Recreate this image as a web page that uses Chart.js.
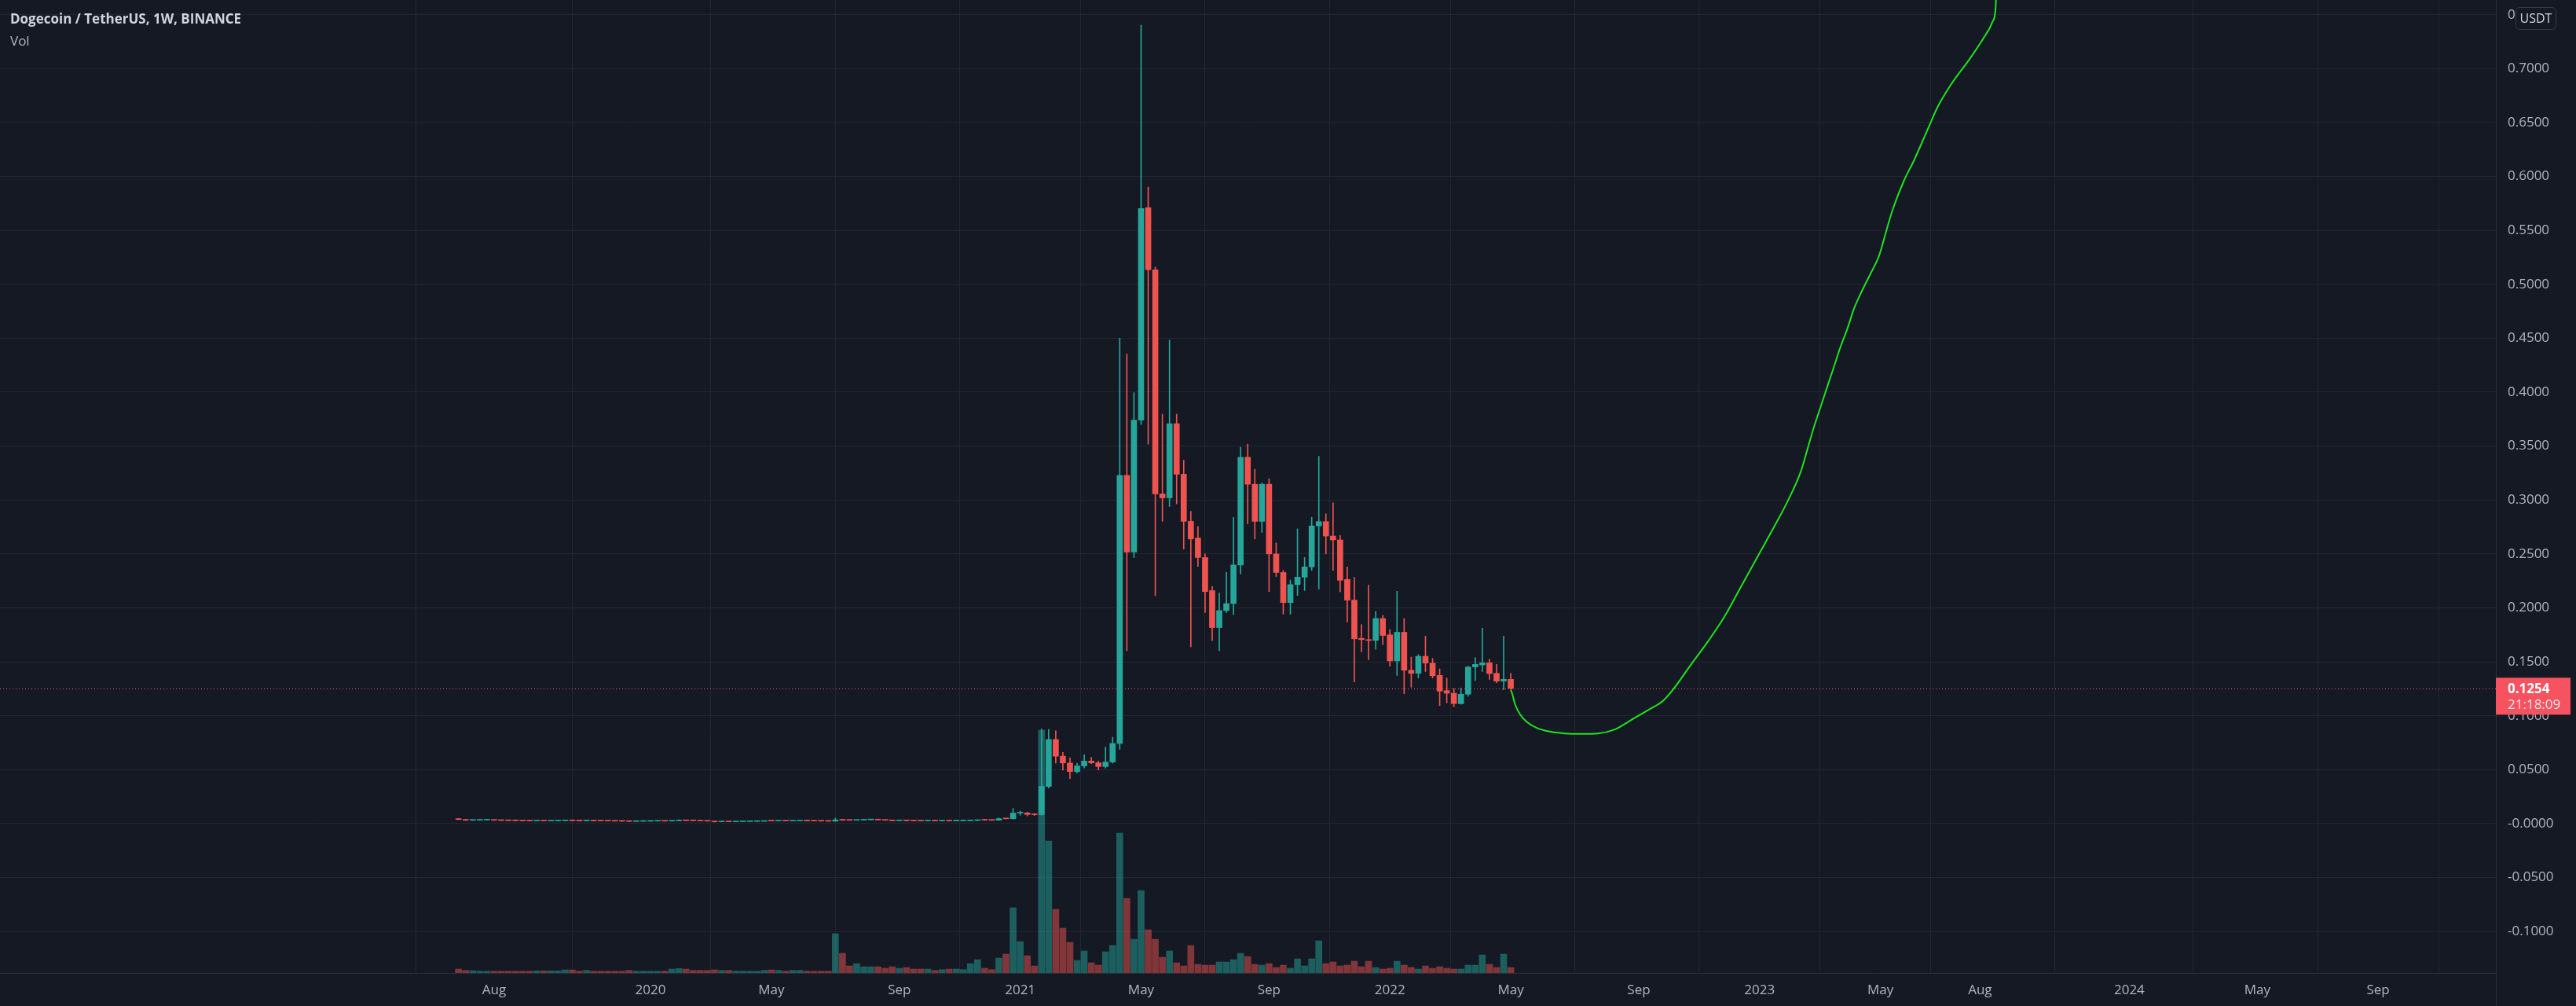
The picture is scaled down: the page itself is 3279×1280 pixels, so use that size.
<!DOCTYPE html>
<html lang="en">
<head>
  <meta charset="UTF-8">
  <title>Dogecoin / TetherUS, 1W, BINANCE</title>
  <script src="https://cdn.jsdelivr.net/npm/chart.js"></script>
  <style>
    body {
      margin: 0;
      padding: 0;
      background-color: #151924;
      overflow: hidden;
    }

    .wrap {
      position: relative;
      width: 3279px;
      height: 1280px;
    }

    .legend {
      position: absolute;
      left: 13px;
      font-family: 'Open Sans', sans-serif;
      font-size: 17px;
      line-height: 24px;
      pointer-events: none;
    }

    .legend.title {
      top: 12px;
      font-weight: bold;
      color: #d1d4dc;
    }

    .legend.vol {
      top: 40px;
      color: #b2b5be;
    }
  </style>
</head>
<body>
  <div class="wrap">
    <canvas id="dogeChart"></canvas>
    <div class="legend title">Dogecoin / TetherUS, 1W, BINANCE</div>
    <div class="legend vol">Vol</div>
  </div>

  <script>
    // weekly candles, index 0 = week of 2019-07-01, index 148 = week of 2022-05-02
    const opens = [
      0.0046, 0.0038, 0.0031, 0.0032, 0.0033, 0.0034, 0.0031, 0.0029, 0.0028, 0.0027,
      0.0026, 0.0025, 0.0026, 0.0025, 0.0026, 0.0027, 0.0028, 0.0027, 0.0026, 0.0027,
      0.0026, 0.0025, 0.0024, 0.0023, 0.0022, 0.0020, 0.0021, 0.0022, 0.0023, 0.0024,
      0.0023, 0.0026, 0.0029, 0.0028, 0.0027, 0.0025, 0.0023, 0.0017, 0.0018, 0.0017,
      0.0018, 0.0019, 0.0020, 0.0021, 0.0025, 0.0024, 0.0025, 0.0024, 0.0025, 0.0026,
      0.0025, 0.0024, 0.0023, 0.0022, 0.0035, 0.0032, 0.0031, 0.0033, 0.0035, 0.0036,
      0.0034, 0.0031, 0.0027, 0.0028, 0.0027, 0.0026, 0.0025, 0.0026, 0.0025, 0.0026,
      0.0025, 0.0026, 0.0027, 0.0029, 0.0034, 0.0032, 0.0031, 0.0046, 0.0045, 0.0098,
      0.0099, 0.0085, 0.0083, 0.0345, 0.0780, 0.0625, 0.0562, 0.0482, 0.0535, 0.0580,
      0.0564, 0.0529, 0.0571, 0.0743, 0.3229, 0.2518, 0.3741, 0.5711, 0.5135, 0.3057,
      0.3020, 0.3708, 0.3239, 0.2802, 0.2648, 0.2467, 0.2160, 0.1817, 0.1975, 0.2040,
      0.2398, 0.3397, 0.3146, 0.2802, 0.3146, 0.2500, 0.2328, 0.2049, 0.2216, 0.2285,
      0.2380, 0.2760, 0.2800, 0.2666, 0.2630, 0.2264, 0.2072, 0.1718, 0.1706, 0.1698,
      0.1902, 0.1750, 0.1508, 0.1774, 0.1422, 0.1393, 0.1551, 0.1488, 0.1374, 0.1233,
      0.1209, 0.1112, 0.1200, 0.1452, 0.1471, 0.1491, 0.1393, 0.1321, 0.1338
    ];
    const highs = [
      0.0049, 0.0040, 0.0034, 0.0035, 0.0036, 0.0035, 0.0032, 0.0030, 0.0029, 0.0028,
      0.0027, 0.0028, 0.0027, 0.0027, 0.0029, 0.0031, 0.0029, 0.0028, 0.0029, 0.0028,
      0.0027, 0.0026, 0.0025, 0.0024, 0.0023, 0.0022, 0.0023, 0.0024, 0.0026, 0.0025,
      0.0027, 0.0036, 0.0031, 0.0029, 0.0028, 0.0026, 0.0024, 0.0020, 0.0019, 0.0019,
      0.0020, 0.0021, 0.0022, 0.0027, 0.0027, 0.0027, 0.0026, 0.0026, 0.0027, 0.0027,
      0.0026, 0.0025, 0.0024, 0.0052, 0.0036, 0.0034, 0.0035, 0.0037, 0.0038, 0.0037,
      0.0035, 0.0032, 0.0030, 0.0029, 0.0028, 0.0027, 0.0027, 0.0027, 0.0027, 0.0027,
      0.0027, 0.0028, 0.0031, 0.0036, 0.0036, 0.0033, 0.0052, 0.0050, 0.0140, 0.0116,
      0.0105, 0.0094, 0.0878, 0.0873, 0.0860, 0.0660, 0.0610, 0.0560, 0.0638, 0.0615,
      0.0580, 0.0710, 0.0801, 0.4500, 0.4354, 0.3996, 0.7402, 0.5901, 0.5160, 0.3796,
      0.4484, 0.3796, 0.3369, 0.2895, 0.2755, 0.2500, 0.2198, 0.2137, 0.2328, 0.2839,
      0.3490, 0.3518, 0.3285, 0.3160, 0.3197, 0.2602, 0.2347, 0.2258, 0.2732, 0.2467,
      0.2839, 0.3406, 0.2872, 0.2974, 0.2671, 0.2380, 0.2283, 0.1846, 0.2210, 0.1967,
      0.1931, 0.1800, 0.2154, 0.1900, 0.1544, 0.1568, 0.1738, 0.1532, 0.1435, 0.1350,
      0.1253, 0.1255, 0.1459, 0.1539, 0.1811, 0.1524, 0.1476, 0.1738, 0.1393
    ];
    const lows = [
      0.0036, 0.0029, 0.0030, 0.0031, 0.0032, 0.0030, 0.0028, 0.0027, 0.0026, 0.0025,
      0.0024, 0.0024, 0.0024, 0.0024, 0.0025, 0.0026, 0.0026, 0.0025, 0.0025, 0.0025,
      0.0024, 0.0023, 0.0022, 0.0021, 0.0019, 0.0019, 0.0020, 0.0021, 0.0022, 0.0022,
      0.0022, 0.0025, 0.0027, 0.0026, 0.0024, 0.0022, 0.0014, 0.0016, 0.0016, 0.0016,
      0.0017, 0.0018, 0.0019, 0.0020, 0.0023, 0.0023, 0.0023, 0.0023, 0.0024, 0.0024,
      0.0023, 0.0022, 0.0021, 0.0021, 0.0029, 0.0029, 0.0030, 0.0032, 0.0034, 0.0033,
      0.0030, 0.0026, 0.0026, 0.0026, 0.0025, 0.0024, 0.0024, 0.0024, 0.0024, 0.0024,
      0.0024, 0.0025, 0.0026, 0.0028, 0.0030, 0.0030, 0.0030, 0.0041, 0.0042, 0.0078,
      0.0071, 0.0075, 0.0078, 0.0330, 0.0562, 0.0495, 0.0418, 0.0470, 0.0515, 0.0555,
      0.0497, 0.0515, 0.0560, 0.0688, 0.1603, 0.2467, 0.3700, 0.3518, 0.2114, 0.2802,
      0.2940, 0.2965, 0.2546, 0.1640, 0.2384, 0.1956, 0.1696, 0.1603, 0.1956, 0.1938,
      0.2314, 0.2779, 0.2639, 0.2700, 0.2151, 0.2291, 0.1942, 0.1942, 0.2114, 0.2161,
      0.2347, 0.2175, 0.2500, 0.2347, 0.2150, 0.1870, 0.1313, 0.1592, 0.1519, 0.1616,
      0.1660, 0.1460, 0.1373, 0.1204, 0.1265, 0.1350, 0.1410, 0.1350, 0.1095, 0.1120,
      0.1083, 0.1107, 0.1180, 0.1326, 0.1410, 0.1338, 0.1306, 0.1240, 0.1245
    ];
    const closes = [
      0.0038, 0.0031, 0.0032, 0.0033, 0.0034, 0.0031, 0.0029, 0.0028, 0.0027, 0.0026,
      0.0025, 0.0026, 0.0025, 0.0026, 0.0027, 0.0028, 0.0027, 0.0026, 0.0027, 0.0026,
      0.0025, 0.0024, 0.0023, 0.0022, 0.0020, 0.0021, 0.0022, 0.0023, 0.0024, 0.0023,
      0.0026, 0.0029, 0.0028, 0.0027, 0.0025, 0.0023, 0.0017, 0.0018, 0.0017, 0.0018,
      0.0019, 0.0020, 0.0021, 0.0025, 0.0024, 0.0025, 0.0024, 0.0025, 0.0026, 0.0025,
      0.0024, 0.0023, 0.0022, 0.0035, 0.0032, 0.0031, 0.0033, 0.0035, 0.0036, 0.0034,
      0.0031, 0.0027, 0.0028, 0.0027, 0.0026, 0.0025, 0.0026, 0.0025, 0.0026, 0.0025,
      0.0026, 0.0027, 0.0029, 0.0034, 0.0032, 0.0031, 0.0046, 0.0045, 0.0098, 0.0099,
      0.0085, 0.0083, 0.0345, 0.0780, 0.0625, 0.0562, 0.0482, 0.0535, 0.0580, 0.0564,
      0.0529, 0.0571, 0.0743, 0.3229, 0.2518, 0.3741, 0.5702, 0.5135, 0.3057, 0.3020,
      0.3708, 0.3239, 0.2802, 0.2639, 0.2467, 0.2151, 0.1817, 0.1975, 0.2040, 0.2398,
      0.3397, 0.3146, 0.2802, 0.3146, 0.2500, 0.2328, 0.2049, 0.2216, 0.2285, 0.2380,
      0.2760, 0.2800, 0.2666, 0.2630, 0.2256, 0.2072, 0.1713, 0.1706, 0.1698, 0.1902,
      0.1744, 0.1508, 0.1774, 0.1422, 0.1393, 0.1551, 0.1488, 0.1371, 0.1228, 0.1209,
      0.1112, 0.1200, 0.1452, 0.1476, 0.1491, 0.1391, 0.1321, 0.1338, 0.1254
    ];
    // volume, relative units
    const volumes = [
      5, 3.3, 3, 2.3, 2.3, 2.3, 2.3, 2.3, 2.3, 2.3,
      2.3, 2.7, 2.7, 2.7, 2.7, 4, 4, 2.3, 3.3, 2.3,
      2.3, 2.3, 2.3, 2.3, 3.3, 2.3, 2.3, 2.3, 2.3, 2.3,
      5, 5.7, 5, 3.3, 3.3, 3.3, 4, 3.3, 3.3, 2.3,
      2.3, 2.3, 2.3, 3.3, 4, 3.3, 2.3, 3.3, 3.3, 2.3,
      2.3, 2.3, 2.3, 50, 25, 9, 12, 8, 8, 8,
      6, 8, 6, 7, 5, 5, 5, 3.3, 4.3, 5,
      5, 4.3, 12, 17, 6, 4.3, 19, 24, 83, 40,
      22, 9, 309, 168, 81, 57, 39, 16, 28, 13,
      10, 27, 35, 178, 95, 43, 105, 55, 43, 20,
      28, 13, 9, 35, 11, 10, 10, 14, 14, 17,
      25, 21, 11, 10, 12, 7, 10, 6, 18, 9,
      18, 41, 12, 14, 9, 10, 15, 8, 15, 7,
      5, 6, 15, 10, 7, 5, 9, 6, 8, 6,
      5, 5, 10, 10, 23, 11, 7, 24, 7
    ];

    // hand-drawn projection line (week number, price)
    const drawWeeks = [
      148.0, 148.23, 148.61, 149.31, 150.24, 151.65, 153.28, 155.62, 157.96, 160.30,
      162.63, 164.50, 165.91, 167.78, 169.41, 170.58, 173.39, 175.72, 178.06, 180.40,
      182.74, 185.07, 186.94, 188.81, 189.75, 190.68, 191.62, 192.55, 193.49, 194.42,
      195.36, 196.29, 197.23, 198.63, 199.80, 200.73, 201.67, 203.31, 204.71, 206.58,
      207.98, 209.85, 212.66, 214.53, 215.70, 216.17, 216.30
    ];
    const drawPrices = [
      0.1240, 0.1198, 0.1105, 0.1012, 0.0943, 0.0887, 0.0855, 0.0836, 0.0832, 0.0836,
      0.0873, 0.0943, 0.0999, 0.1069, 0.1138, 0.1222, 0.1478, 0.1687, 0.1919, 0.2198,
      0.2477, 0.2755, 0.2988, 0.3267, 0.3476, 0.3685, 0.3871, 0.4057, 0.4242, 0.4428,
      0.4591, 0.4777, 0.4916, 0.5102, 0.5265, 0.5474, 0.5683, 0.5962, 0.6148, 0.6427,
      0.6636, 0.6845, 0.7100, 0.7286, 0.7426, 0.7542, 0.7700
    ];

    // time axis labels (week number of the first bar of that month)
    const tickWeeks = [5, 27, 44, 62, 79, 96, 114, 131, 148, 166, 183, 200, 214, 235, 253, 270];
    const tickLabels = ['Aug', '2020', 'May', 'Sep', '2021', 'May', 'Sep', '2022', 'May', 'Sep', '2023', 'May', 'Aug', '2024', 'May', 'Sep'];
    const priceTicks = [-0.1, -0.05, 0, 0.05, 0.1, 0.15, 0.2, 0.25, 0.3, 0.35, 0.4, 0.45, 0.5, 0.55, 0.6, 0.65, 0.7, 0.75];

    const lastPrice = 0.1254;
    const countdown = '21:18:09';

    const UP = '#26a69a';
    const DOWN = '#ef5350';
    const UP_VOL = 'rgba(38, 166, 154, 0.5)';
    const DOWN_VOL = 'rgba(239, 83, 80, 0.5)';
    const FONT = "'Open Sans', sans-serif";
    const GRID = 'rgba(42, 46, 57, 0.6)';

    const isUp = closes.map((c, i) => c >= opens[i]);

    const wrap = document.querySelector('.wrap');
    const canvas = document.getElementById('dogeChart');
    canvas.width = 3279;
    canvas.height = 1280;

    // dotted last-price line + price box + currency badge
    const overlay = {
      id: 'overlay',
      beforeDatasetsDraw(chart) {
        const { ctx, chartArea, scales } = chart;
        const py = Math.round(scales.y.getPixelForValue(lastPrice)) + 0.5;
        ctx.save();
        ctx.strokeStyle = '#f7525f';
        ctx.lineWidth = 1;
        ctx.setLineDash([1, 3]);
        ctx.beginPath();
        ctx.moveTo(chartArea.left, py);
        ctx.lineTo(chartArea.right, py);
        ctx.stroke();
        ctx.restore();
      },
      afterDraw(chart) {
        const { ctx, chartArea, scales } = chart;
        const x0 = chartArea.right;
        const py = scales.y.getPixelForValue(lastPrice);
        ctx.save();

        // axis separator, full height
        ctx.strokeStyle = '#2a2e39';
        ctx.lineWidth = 1;
        ctx.beginPath();
        ctx.moveTo(x0 + 0.5, 0);
        ctx.lineTo(x0 + 0.5, chart.height);
        ctx.stroke();

        // last price box
        ctx.fillStyle = '#f7525f';
        ctx.fillRect(x0, py - 13.5, 95, 47);
        ctx.textBaseline = 'middle';
        ctx.textAlign = 'left';
        ctx.fillStyle = '#ffffff';
        ctx.font = 'bold 17px ' + FONT;
        ctx.fillText(lastPrice.toFixed(4), x0 + 15, py + 1);
        ctx.fillStyle = 'rgba(255, 255, 255, 0.85)';
        ctx.font = '17px ' + FONT;
        ctx.fillText(countdown, x0 + 15, py + 21);

        // USDT badge
        const bx = x0 + 25, by = 9, bw = 51, bh = 28;
        ctx.fillStyle = '#151924';
        ctx.strokeStyle = '#363a45';
        ctx.beginPath();
        ctx.roundRect(bx + 0.5, by + 0.5, bw, bh, 5);
        ctx.fill();
        ctx.stroke();
        ctx.fillStyle = '#d1d4dc';
        ctx.font = '16px ' + FONT;
        ctx.textAlign = 'center';
        ctx.fillText('USDT', bx + bw / 2 + 0.5, by + bh / 2 + 1);
        ctx.restore();
      }
    };

    const dogeChart = new Chart(canvas, {
      type: 'bar',
      data: {
        datasets: [
          {
            type: 'line',
            label: 'Drawing',
            data: drawWeeks.map((w, i) => ({ x: w, y: drawPrices[i] })),
            borderColor: '#1ee41e',
            borderWidth: 2,
            pointRadius: 0,
            cubicInterpolationMode: 'monotone',
            order: 0
          },
          {
            label: 'Body',
            data: opens.map((o, i) => ({ x: i, y: [o, closes[i]] })),
            backgroundColor: isUp.map(u => u ? UP : DOWN),
            barThickness: 7,
            minBarLength: 1,
            grouped: false,
            order: 1
          },
          {
            label: 'Wick',
            data: lows.map((l, i) => ({ x: i, y: [l, highs[i]] })),
            backgroundColor: isUp.map(u => u ? UP : DOWN),
            barThickness: 1,
            grouped: false,
            order: 2
          },
          {
            label: 'Vol',
            data: volumes.map((v, i) => ({ x: i, y: v })),
            backgroundColor: isUp.map(u => u ? UP_VOL : DOWN_VOL),
            barThickness: 8,
            grouped: false,
            yAxisID: 'yVol',
            order: 3
          }
        ]
      },
      options: {
        responsive: false,
        animation: false,
        layout: { padding: 0 },
        plugins: {
          legend: { display: false },
          tooltip: { enabled: false }
        },
        scales: {
          x: {
            type: 'linear',
            min: -64.5,
            max: 286.56,
            offset: false,
            grid: { color: GRID, drawTicks: false },
            border: { color: '#2a2e39' },
            ticks: {
              color: '#b2b5be',
              font: { family: FONT, size: 17 },
              padding: 12,
              maxRotation: 0,
              autoSkip: false,
              callback: (v) => {
                const k = tickWeeks.indexOf(v);
                return k >= 0 ? tickLabels[k] : '';
              }
            },
            afterBuildTicks: (scale) => {
              scale.ticks = tickWeeks.map(v => ({ value: v }));
            },
            afterFit: (scale) => {
              scale.height = 42;
              scale.paddingLeft = 0;
              scale.paddingRight = 0;
            }
          },
          y: {
            position: 'right',
            min: -0.1385,
            max: 0.7636,
            grid: { color: GRID, drawTicks: false },
            border: { color: '#2a2e39' },
            ticks: {
              color: '#b2b5be',
              font: { family: FONT, size: 17 },
              padding: 15,
              callback: (v) => (v === 0 ? '-0.0000' : v.toFixed(4))
            },
            afterBuildTicks: (scale) => {
              scale.ticks = priceTicks.map(v => ({ value: v }));
            },
            afterFit: (scale) => {
              scale.width = 102;
              scale.paddingTop = 0;
              scale.paddingBottom = 0;
            }
          },
          yVol: {
            display: false,
            min: 0,
            max: 1238
          }
        }
      },
      plugins: [overlay]
    });
  </script>
</body>
</html>
